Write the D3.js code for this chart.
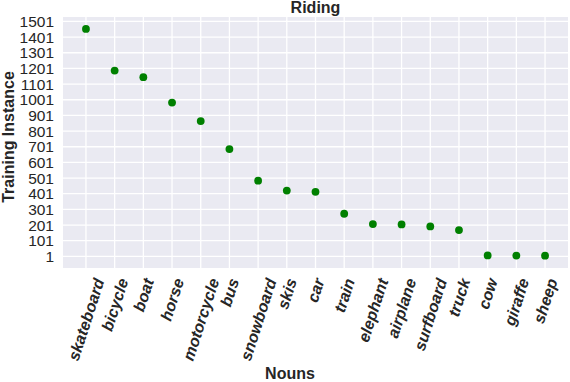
<!DOCTYPE html>
<html>
<head>
<meta charset="utf-8">
<script src="https://cdn.jsdelivr.net/npm/d3@7"></script>
<style>
  body { margin: 0; background: #fff; }
  text { font-family: "Liberation Sans", Arial, sans-serif; fill: #262626; }
</style>
</head>
<body>
<svg id="chart" width="570" height="382"></svg>
<script>
"use strict";

// nouns in the order they are plotted
var nouns = ["skateboard", "bicycle", "boat", "horse", "motorcycle", "bus", "snowboard", "skis",
             "car", "train", "elephant", "airplane", "surfboard", "truck", "cow", "giraffe", "sheep"];
// training instances per noun
var counts = [1453, 1187, 1145, 983, 865, 686, 484, 421, 413, 273, 207, 205, 192, 169, 7, 6, 5];
// y tick values
var yTicks = [1, 101, 201, 301, 401, 501, 601, 701, 801, 901, 1001, 1101, 1201, 1301, 1401, 1501];

var svg = d3.select("#chart"),
    plotLeft = 63, plotRight = 568, plotTop = 17, plotBottom = 268,
    angle = 72; // rotation of x tick labels

var yMin = d3.min(counts), yMax = d3.max(counts), pad = (yMax - yMin) * 0.05;

var x = d3.scaleLinear().domain([-0.8, nouns.length - 1 + 0.8]).range([plotLeft, plotRight]);
var y = d3.scaleLinear().domain([yMin - pad - 6, yMax + pad + 4]).range([plotBottom, plotTop]);

// plot background
svg.append("rect")
    .attr("x", plotLeft).attr("y", plotTop)
    .attr("width", plotRight - plotLeft).attr("height", plotBottom - plotTop)
    .attr("fill", "#eaeaf2");

// grid lines
svg.append("g").selectAll("line")
    .data(yTicks).enter().append("line")
    .attr("x1", plotLeft).attr("x2", plotRight)
    .attr("y1", function (d) { return y(d); })
    .attr("y2", function (d) { return y(d); })
    .attr("stroke", "#fff").attr("stroke-width", 1.3);
svg.append("g").selectAll("line")
    .data(nouns).enter().append("line")
    .attr("y1", plotTop).attr("y2", plotBottom)
    .attr("x1", function (d, i) { return x(i); })
    .attr("x2", function (d, i) { return x(i); })
    .attr("stroke", "#fff").attr("stroke-width", 1.3);

// y tick labels
svg.append("g").selectAll("text")
    .data(yTicks).enter().append("text")
    .attr("x", plotLeft - 9)
    .attr("y", function (d) { return y(d); })
    .attr("dy", "0.36em")
    .attr("text-anchor", "end")
    .style("font-size", "15.5px")
    .text(function (d) { return d; });

// x tick labels, rotated; centred on the tick like matplotlib's ha=center
var rad = angle * Math.PI / 180, h = 12;
svg.append("g").selectAll("text")
    .data(nouns).enter().append("text")
    .attr("text-anchor", "end")
    .attr("dy", "0.36em")
    .style("font-size", "16px")
    .style("font-weight", "bold")
    .style("font-style", "italic")
    .text(function (d) { return d; })
    .each(function (d, i) {
        var len = this.getComputedTextLength(),
            ax = x(i) + len * Math.cos(rad) / 2,
            ay = plotBottom + 9 + h / 2 * Math.cos(rad);
        d3.select(this)
            .attr("transform", "translate(" + ax + "," + ay + ") rotate(" + (-angle) + ")");
    });

// points
svg.append("g").selectAll("circle")
    .data(counts).enter().append("circle")
    .attr("cx", function (d, i) { return x(i); })
    .attr("cy", function (d) { return y(d); })
    .attr("r", 3.9)
    .attr("fill", "#008000");

// title and axis labels
svg.append("text")
    .attr("x", (plotLeft + plotRight) / 2).attr("y", 13)
    .attr("text-anchor", "middle")
    .style("font-size", "16px").style("font-weight", "bold")
    .text("Riding");
svg.append("text")
    .attr("x", 290).attr("y", 379)
    .attr("text-anchor", "middle")
    .style("font-size", "16px").style("font-weight", "bold")
    .text("Nouns");
svg.append("text")
    .attr("transform", "translate(14,137) rotate(-90)")
    .attr("text-anchor", "middle")
    .style("font-size", "16px").style("font-weight", "bold")
    .text("Training Instance");
</script>
</body>
</html>
